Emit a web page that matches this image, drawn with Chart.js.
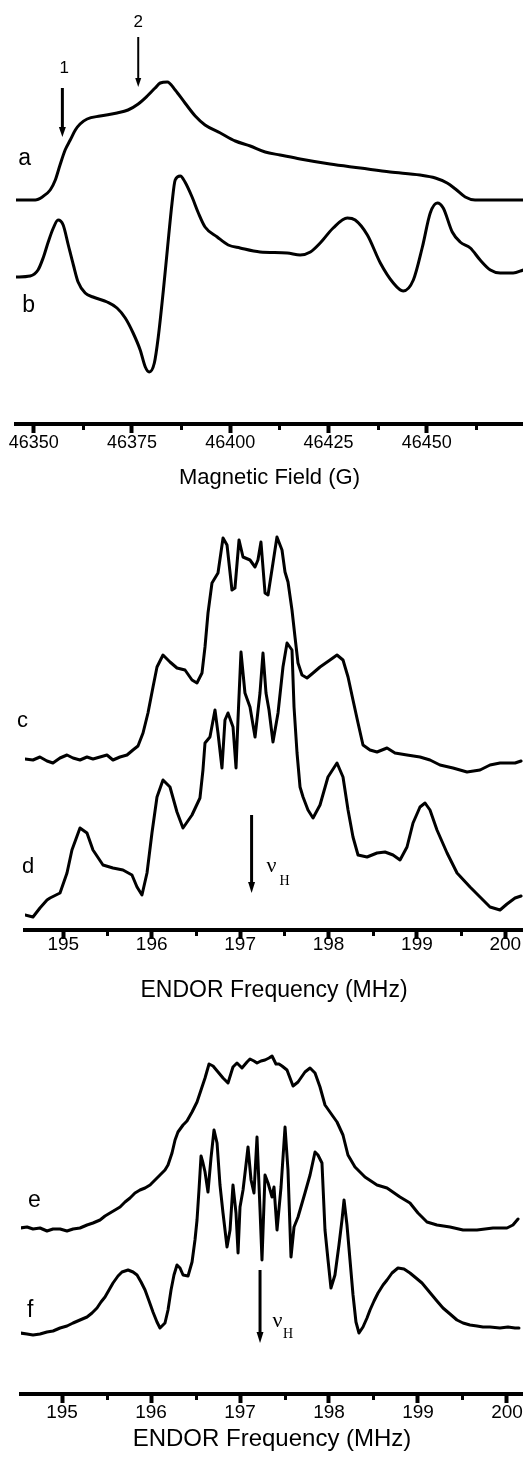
<!DOCTYPE html>
<html><head><meta charset="utf-8">
<script src="https://cdn.jsdelivr.net/npm/chart.js@4.4.1/dist/chart.umd.min.js"></script>
<style>
html,body{margin:0;padding:0;background:#fff;width:523px;height:1464px;overflow:hidden}
canvas{position:absolute;left:0}
</style></head><body>
<canvas id="c1" width="523" height="491" style="top:0px"></canvas>
<canvas id="c2" width="523" height="504" style="top:500px"></canvas>
<canvas id="c3" width="523" height="444" style="top:1010px"></canvas>
<script>
// ---------- Panel 1: EPR, magnetic field (G), intensity in a.u. ----------
const fieldA = [46345.5,46350.4,46352.2,46354.2,46355.5,46356.7,46358.0,46359.3,46360.6,46361.8,46363.6,46366.9,46371.2,46374.0,46376.6,46378.9,46380.9,46382.2,46384.0,46386.0,46388.5,46391.1,46393.6,46397.5,46401.3,46405.1,46408.9,46412.7,46417.8,46425.4,46433.1,46440.7,46448.3,46452.2,46455.2,46457.3,46459.8,46462.3,46474.6];
const sigA   = [224,224,227,234,244,259,274,284,294,300,305,308,311,314,320,328,336,341,342,334,321,308,299,291,283,278,272,269,265,260,256,252,249,246,241,235,227,224,224];
const fieldB = [46345.5,46349.1,46351.1,46352.4,46353.7,46355.0,46356.2,46357.5,46358.8,46360.1,46361.3,46363.1,46365.1,46368.7,46371.2,46373.3,46375.3,46377.1,46378.4,46379.4,46380.7,46381.7,46383.0,46384.0,46385.2,46386.0,46387.3,46388.5,46390.3,46391.9,46393.6,46396.7,46399.5,46402.5,46407.6,46414.5,46417.8,46420.4,46422.9,46426.2,46429.8,46431.8,46434.9,46438.2,46441.5,46444.0,46446.6,46448.9,46450.9,46452.7,46454.2,46456.5,46458.5,46461.1,46463.6,46466.2,46468.7,46472.0,46474.6];
const sigB   = [147,148,154,166,182,196,204,199,179,159,142,131,127,122,116,106,91,74,57,52,61,87,134,174,221,244,248,242,227,211,197,187,179,176,172,171,169,172,181,196,206,204,189,161,141,133,144,177,211,221,216,192,182,176,164,154,151,151,154];
const ticksG = [46350,46375,46400,46425,46450];
const minorG = [46362.5,46387.5,46412.5,46437.5,46462.5];

// ---------- Panel 2: ENDOR c, d (MHz) ----------
const freqC = [194.567,194.657,194.736,194.816,194.883,194.963,195.042,195.110,195.189,195.268,195.336,195.415,195.494,195.562,195.641,195.721,195.788,195.845,195.902,195.958,196.015,196.060,196.128,196.207,196.286,196.377,196.456,196.512,196.569,196.603,196.637,196.682,196.750,196.807,196.852,196.908,196.942,196.988,197.033,197.112,197.169,197.202,197.236,197.282,197.316,197.372,197.417,197.474,197.508,197.542,197.587,197.621,197.655,197.700,197.757,197.825,197.904,198.017,198.096,198.164,198.221,198.277,198.334,198.390,198.469,198.549,198.662,198.752,198.888,199.035,199.148,199.261,199.408,199.567,199.714,199.827,199.940,200.110,200.178];
const sigC  = [171,170,173,169,167,172,175,172,170,173,171,173,175,170,173,175,180,184,197,217,243,263,275,268,262,260,250,247,257,283,317,347,357,392,385,340,342,390,373,370,363,370,388,337,335,367,393,380,358,348,320,293,267,255,252,257,263,270,275,270,253,230,207,185,180,178,182,177,175,173,170,165,162,158,160,165,167,167,169];
const freqD = [194.567,194.657,194.736,194.816,194.850,194.963,195.042,195.098,195.189,195.268,195.336,195.449,195.562,195.675,195.777,195.834,195.890,195.947,196.003,196.060,196.128,196.207,196.286,196.354,196.456,196.546,196.580,196.603,196.659,196.716,196.750,196.795,196.829,196.863,196.920,196.954,196.976,197.010,197.055,197.112,197.169,197.225,197.259,197.293,197.327,197.372,197.429,197.485,197.531,197.587,197.610,197.644,197.678,197.712,197.768,197.825,197.904,197.994,198.096,198.164,198.221,198.277,198.334,198.436,198.549,198.639,198.730,198.809,198.888,198.956,199.035,199.092,199.148,199.227,199.341,199.454,199.601,199.714,199.827,199.940,200.019,200.110,200.178];
const sigD  = [15,13,22,30,32,37,57,80,102,97,80,65,62,60,55,43,35,57,97,133,150,143,118,102,115,132,160,187,193,220,197,162,210,217,203,162,210,278,237,223,193,237,277,237,220,188,217,263,287,280,223,177,143,133,120,112,125,153,167,153,120,93,75,73,77,78,75,70,83,107,123,127,120,100,77,57,43,33,23,20,26,32,34];
const ticksMHz = [195,196,197,198,199,200];
const minorMHz = [195.5,196.5,197.5,198.5,199.5];

// ---------- Panel 3: ENDOR e, f (MHz) ----------
const freqE = [194.528,194.607,194.674,194.753,194.831,194.899,194.978,195.056,195.124,195.202,195.281,195.348,195.427,195.483,195.539,195.596,195.652,195.708,195.764,195.820,195.876,195.933,195.989,196.045,196.101,196.157,196.191,196.236,196.270,196.303,196.360,196.404,196.461,196.517,196.562,196.607,196.652,196.697,196.753,196.809,196.865,196.921,196.966,197.022,197.079,197.112,197.157,197.191,197.236,197.281,197.326,197.360,197.404,197.438,197.472,197.528,197.562,197.596,197.652,197.730,197.787,197.843,197.899,197.955,198.034,198.090,198.157,198.213,198.292,198.404,198.539,198.652,198.798,198.910,199.000,199.101,199.213,199.360,199.506,199.663,199.843,200.000,200.067,200.124];
const sigE  = [166,167,165,166,163,165,165,163,165,166,169,171,174,178,181,184,187,192,196,201,204,206,209,214,219,224,229,241,254,262,269,273,282,292,304,316,330,328,322,316,311,327,331,326,332,335,333,331,333,334,336,338,330,330,328,324,316,308,312,322,326,321,307,289,279,272,259,239,227,217,209,206,197,191,181,172,169,167,164,164,166,166,169,175];
const freqF = [194.528,194.607,194.674,194.753,194.831,194.899,194.978,195.056,195.124,195.202,195.281,195.337,195.393,195.438,195.483,195.528,195.573,195.629,195.674,195.742,195.798,195.843,195.888,195.933,195.978,196.022,196.067,196.101,196.157,196.191,196.225,196.258,196.292,196.326,196.360,196.416,196.461,196.494,196.517,196.539,196.562,196.584,196.607,196.640,196.674,196.708,196.742,196.775,196.809,196.854,196.888,196.921,196.955,196.978,197.000,197.034,197.067,197.090,197.124,197.157,197.191,197.225,197.247,197.281,197.315,197.360,197.382,197.416,197.461,197.506,197.539,197.573,197.607,197.652,197.730,197.787,197.843,197.876,197.921,197.955,197.989,198.022,198.067,198.112,198.146,198.169,198.202,198.236,198.270,198.303,198.337,198.382,198.427,198.461,198.506,198.551,198.607,198.652,198.708,198.775,198.843,198.910,198.978,199.045,199.101,199.157,199.213,199.281,199.360,199.438,199.506,199.584,199.663,199.730,199.809,199.921,200.011,200.090,200.135];
const sigF  = [61,60,59,60,62,63,66,68,71,74,77,81,86,92,97,104,111,118,122,124,122,119,112,104,93,82,72,66,71,84,104,119,129,126,119,118,132,154,174,204,238,231,222,202,236,264,251,209,181,147,164,209,181,141,187,204,229,247,214,201,257,184,134,219,211,197,207,164,207,267,224,137,167,177,201,219,242,239,231,164,134,106,119,149,174,194,169,134,99,72,61,67,76,84,93,101,109,114,121,126,125,121,116,111,105,99,93,86,80,74,71,69,68,67,67,66,67,66,66];

// ---------- annotations (in data units) ----------
const notes1 = {
  texts: [
    {t:'a', x:46346.1, y:259.5, size:23, family:'sans', align:'left'},
    {t:'b', x:46347.1, y:112, size:23, family:'sans', align:'left'},
    {t:'1', x:46357.8, y:351, size:17, family:'sans', align:'center'},
    {t:'2', x:46376.6, y:397, size:17, family:'sans', align:'center'}
  ],
  arrows: [
    {x:46357.3, from:336, to:287, w:3, hw:3.5, hl:10},
    {x:46376.6, from:387, to:337, w:2, hw:3, hl:9}
  ]
};
const notes2 = {
  texts: [
    {t:'c', x:194.476, y:203, size:22, family:'sans', align:'left'},
    {t:'d', x:194.533, y:57, size:22, family:'sans', align:'left'},
    {t:'\u03BD', x:197.298, y:58, size:22, family:'serif', align:'left'},
    {t:'H', x:197.447, y:45, size:14, family:'serif', align:'left'}
  ],
  arrows: [ {x:197.13, from:115, to:37, w:3, hw:3.5, hl:11} ]
};
const notes3 = {
  texts: [
    {t:'e', x:194.618, y:187, size:23, family:'sans', align:'left'},
    {t:'f', x:194.607, y:77, size:23, family:'sans', align:'left'},
    {t:'\u03BD', x:197.365, y:67, size:22, family:'serif', align:'left'},
    {t:'H', x:197.483, y:56, size:14, family:'serif', align:'left'}
  ],
  arrows: [ {x:197.225, from:124, to:51, w:3, hw:3.5, hl:11} ]
};

const SANS = '"Liberation Sans", Arial, Helvetica, sans-serif';
const SERIF = '"Liberation Serif", "Times New Roman", serif';

function pts(xs, ys){ return xs.map((x,i)=>({x:x, y:ys[i]})); }

function annotPlugin(notes, minor){
  return {
    id:'annot',
    afterDraw(chart){
      const ctx = chart.ctx, sx = chart.scales.x, sy = chart.scales.y;
      ctx.save();
      // minor ticks
      ctx.strokeStyle = '#000'; ctx.lineWidth = 3; ctx.lineCap = 'butt';
      minor.forEach(v=>{
        const px = Math.round(sx.getPixelForValue(v)) + 0.5;
        ctx.beginPath(); ctx.moveTo(px, sx.top); ctx.lineTo(px, sx.top + 6); ctx.stroke();
      });
      // arrows
      notes.arrows.forEach(a=>{
        const px = sx.getPixelForValue(a.x);
        const y0 = sy.getPixelForValue(a.from), y1 = sy.getPixelForValue(a.to);
        ctx.lineWidth = a.w; ctx.strokeStyle = '#000'; ctx.fillStyle = '#000';
        ctx.beginPath(); ctx.moveTo(px, y0); ctx.lineTo(px, y1 - a.hl + 1); ctx.stroke();
        ctx.beginPath(); ctx.moveTo(px - a.hw, y1 - a.hl); ctx.lineTo(px + a.hw, y1 - a.hl); ctx.lineTo(px, y1); ctx.closePath(); ctx.fill();
      });
      // texts
      notes.texts.forEach(t=>{
        ctx.fillStyle = '#000';
        ctx.font = t.size + 'px ' + (t.family === 'serif' ? SERIF : SANS);
        ctx.textAlign = t.align; ctx.textBaseline = 'alphabetic';
        ctx.fillText(t.t, sx.getPixelForValue(t.x), sy.getPixelForValue(t.y));
      });
      ctx.restore();
    }
  };
}

function makeChart(id, cfg){
  return new Chart(document.getElementById(id), {
    type:'line',
    data:{ datasets: cfg.series.map(s=>({
      data: s, borderColor:'#000', borderWidth:3, pointRadius:0, fill:false,
      tension: cfg.tension, cubicInterpolationMode: cfg.mono ? 'monotone' : 'default',
      borderJoinStyle:'round', borderCapStyle:'round'
    }))},
    options:{
      responsive:false, animation:false, devicePixelRatio:1,
      layout:{padding:{left:cfg.left, right:0, top:0, bottom:0}},
      plugins:{legend:{display:false}, tooltip:{enabled:false}},
      scales:{
        x:{ type:'linear', min:cfg.xmin, max:cfg.xmax,
            afterBuildTicks: sc => { sc.ticks = cfg.ticks.map(v=>({value:v})); },
            ticks:{ autoSkip:false, maxRotation:0, minRotation:0, padding:cfg.tickPad, color:'#000',
                    font:{family:SANS, size:cfg.tickSize}, callback: v => String(v) },
            grid:{ display:true, drawOnChartArea:false, drawTicks:true, tickLength:9, tickWidth:4, tickColor:'#000' },
            border:{ display:true, color:'#000', width:4 },
            title:{ display:true, text:cfg.title, color:'#000', font:{family:SANS, size:cfg.titleSize},
                    padding:{top:cfg.titlePadTop, bottom:0} }
        },
        y:{ display:false, min:0, max:cfg.ymax }
      }
    },
    plugins:[annotPlugin(cfg.notes, cfg.minor)]
  });
}

makeChart('c1', {
  series:[pts(fieldA, sigA), pts(fieldB, sigB)], tension:0.4, mono:true,
  left:16, xmin:46345.5, xmax:46474.5, ticks:ticksG, minor:minorG,
  tickPad:-1, tickSize:18, title:'Magnetic Field (G)', titleSize:22, titlePadTop:12,
  ymax:424, notes:notes1
});
makeChart('c2', {
  series:[pts(freqC, sigC), pts(freqD, sigD)], tension:0, mono:false,
  left:25, xmin:194.567, xmax:200.2, ticks:ticksMHz, minor:minorMHz,
  tickPad:-6, tickSize:19, title:'ENDOR Frequency (MHz)', titleSize:23, titlePadTop:26.6,
  ymax:430, notes:notes2
});
makeChart('c3', {
  series:[pts(freqE, sigE), pts(freqF, sigF)], tension:0, mono:false,
  left:21, xmin:194.539, xmax:200.18, ticks:ticksMHz, minor:minorMHz,
  tickPad:-2, tickSize:19, title:'ENDOR Frequency (MHz)', titleSize:24, titlePadTop:3.4,
  ymax:384, notes:notes3
});
</script>
</body></html>
